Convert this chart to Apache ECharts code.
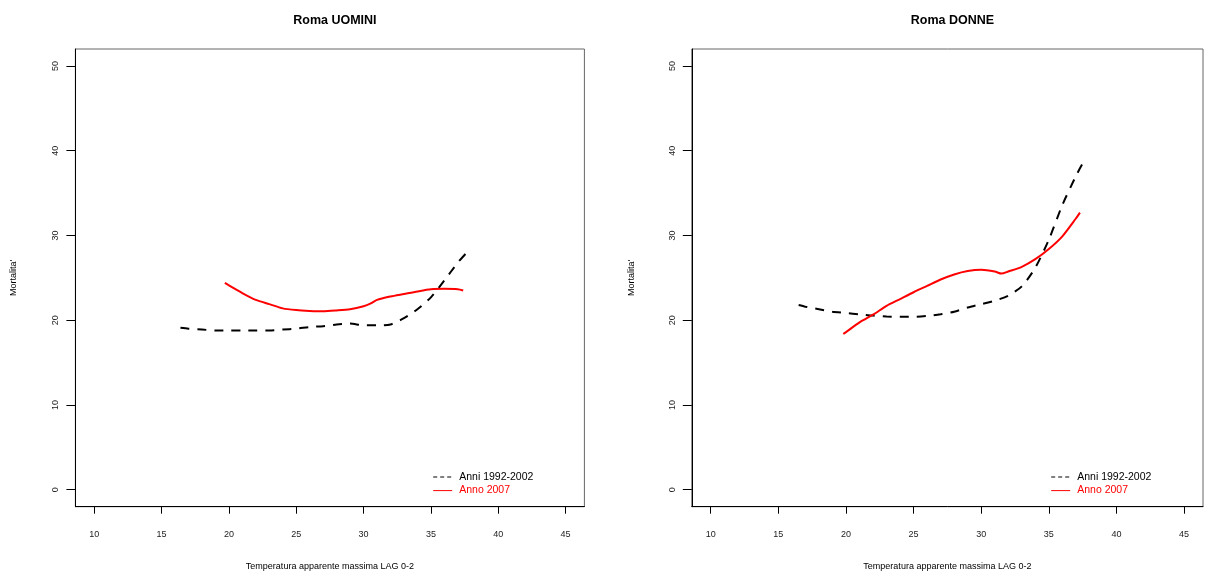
<!DOCTYPE html>
<html><head><meta charset="utf-8">
<script src="https://cdn.jsdelivr.net/npm/echarts@6/dist/echarts.min.js"></script>
<style>html,body{margin:0;padding:0;background:#fff}#c{width:1206px;height:574px}</style>
</head><body><div id="c"></div>
<script>
// Tick labels
const xTicks = [10, 15, 20, 25, 30, 35, 40, 45];
const yTicks = [0, 10, 20, 30, 40, 50];
const titles = ['Roma UOMINI', 'Roma DONNE'];
const seriesNames = ['Anni 1992-2002', 'Anno 2007'];

// Roma UOMINI — Anni 1992-2002 (dashed black)
const uominiPastX = [16.4, 17, 18, 19, 20, 21, 22, 23, 24, 25, 26, 27, 28, 29, 30, 31, 32, 33, 34, 35, 36, 37, 37.7];
const uominiPastY = [19.1, 19.0, 18.9, 18.8, 18.8, 18.8, 18.8, 18.8, 18.9, 19.0, 19.2, 19.3, 19.5, 19.6, 19.4, 19.4, 19.5, 20.25, 21.3, 22.7, 24.7, 26.8, 28.05];
// Roma UOMINI — Anno 2007 (red)
const uominiNowX = [19.7, 20, 21, 22, 23, 24, 25, 26, 27, 28, 29, 30, 30.5, 31, 32, 33, 34, 35, 36, 37, 37.4];
const uominiNowY = [24.4, 24.1, 23.2, 22.4, 21.9, 21.4, 21.2, 21.1, 21.05, 21.15, 21.3, 21.65, 21.95, 22.4, 22.8, 23.1, 23.4, 23.65, 23.7, 23.65, 23.5];
// Roma DONNE — Anni 1992-2002 (dashed black)
const donnePastX = [16.5, 17, 18, 19, 20, 21, 22, 23, 24, 25, 26, 27, 28, 29, 30, 31, 32, 33, 34, 35, 36, 37, 37.6];
const donnePastY = [21.8, 21.6, 21.3, 21.0, 20.85, 20.7, 20.55, 20.45, 20.4, 20.4, 20.5, 20.7, 21.0, 21.5, 21.9, 22.3, 22.9, 24.0, 26.2, 29.5, 33.6, 37.0, 38.8];
// Roma DONNE — Anno 2007 (red)
const donneNowX = [19.8, 20, 21, 22, 23, 24, 25, 26, 27, 28, 29, 30, 31, 31.5, 32, 33, 34, 35, 36, 37, 37.3];
const donneNowY = [18.4, 18.6, 19.75, 20.65, 21.7, 22.5, 23.3, 24.05, 24.8, 25.4, 25.8, 25.95, 25.75, 25.5, 25.75, 26.3, 27.2, 28.4, 29.9, 32.0, 32.7];

const pair = (xs, ys) => xs.map((x, i) => [x, ys[i]]);
const FONT = 'Liberation Sans, Arial, Helvetica, sans-serif';
const grids = [
  {left: 75.4, top: 49, width: 509, height: 457.7},
  {left: 691.8, top: 49, width: 511.2, height: 457.7}
];
const mk = (i) => ({
  xAxis: {
    type: 'value', gridIndex: i, min: 8.6, max: 46.4,
    name: 'Temperatura apparente massima LAG 0-2', nameLocation: 'middle', nameGap: 55,
    nameTextStyle: {fontFamily: FONT, fontSize: 9, color: '#000'},
    axisLine: {show: true, onZero: false, lineStyle: {color: '#000', width: 1}},
    axisTick: {show: true, inside: false, length: 7, customValues: xTicks, lineStyle: {color: '#000', width: 1}},
    axisLabel: {show: true, customValues: xTicks, margin: 23, fontFamily: FONT, fontSize: 9, color: '#222'},
    splitLine: {show: false}
  },
  yAxis: {
    type: 'value', gridIndex: i, min: -2, max: 52,
    name: "Mortalita'", nameLocation: 'middle', nameGap: i === 0 ? 57 : 56, nameRotate: 90,
    nameTextStyle: {fontFamily: FONT, fontSize: 9, color: '#000'},
    axisLine: {show: true, onZero: false, lineStyle: {color: '#000', width: 1}},
    axisTick: {show: true, inside: false, length: 9, customValues: yTicks, lineStyle: {color: '#000', width: 1}},
    axisLabel: {show: true, customValues: yTicks, rotate: 90, margin: 15, fontFamily: FONT, fontSize: 9, color: '#222'},
    splitLine: {show: false}
  }
});
const a0 = mk(0), a1 = mk(1);
const lineSeries = (name, data, i, dashed) => ({
  name, type: 'line', xAxisIndex: i, yAxisIndex: i, data,
  showSymbol: false, symbol: 'none', smooth: 0.25, silent: true, animation: false,
  lineStyle: dashed ? {color: '#000', width: 2, type: [9, 8]} : {color: '#ff0000', width: 2},
  itemStyle: {color: dashed ? '#000' : '#ff0000'}
});
const legendData = [
  {name: seriesNames[0], textStyle: {color: '#000'}, itemStyle: {opacity: 0}, lineStyle: {width: 1, type: [4, 3], color: '#000', opacity: 1}},
  {name: seriesNames[1], textStyle: {color: '#ff0000'}, itemStyle: {opacity: 0}, lineStyle: {width: 1, type: 'solid', color: '#ff0000', opacity: 1}}
];
const mkLegend = (left) => ({
  left, top: 471.5, orient: 'vertical', padding: 0, itemWidth: 19, itemHeight: 10, itemGap: 2.6,
  selectedMode: false, data: legendData,
  textStyle: {fontFamily: FONT, fontSize: 10.5, padding: [0, 0, 0, 2]}
});
const chart = echarts.init(document.getElementById('c'), null, {renderer: 'canvas'});
chart.setOption({
  animation: false,
  backgroundColor: '#fff',
  title: [
    {text: titles[0], left: 329.9, top: 9, textAlign: 'center', textStyle: {fontFamily: FONT, fontSize: 12.5, fontWeight: 'bold', color: '#000'}},
    {text: titles[1], left: 947.4, top: 9, textAlign: 'center', textStyle: {fontFamily: FONT, fontSize: 12.5, fontWeight: 'bold', color: '#000'}}
  ],
  grid: grids.map(g => Object.assign({show: true, borderColor: '#666', borderWidth: 1, backgroundColor: 'transparent', containLabel: false, outerBoundsMode: 'none'}, g)),
  xAxis: [a0.xAxis, a1.xAxis],
  yAxis: [a0.yAxis, a1.yAxis],
  legend: [mkLegend(432.7), mkLegend(1050.7)],
  series: [
    lineSeries(seriesNames[0], pair(uominiPastX, uominiPastY), 0, true),
    lineSeries(seriesNames[1], pair(uominiNowX, uominiNowY), 0, false),
    lineSeries(seriesNames[0], pair(donnePastX, donnePastY), 1, true),
    lineSeries(seriesNames[1], pair(donneNowX, donneNowY), 1, false)
  ]
});
</script></body></html>
